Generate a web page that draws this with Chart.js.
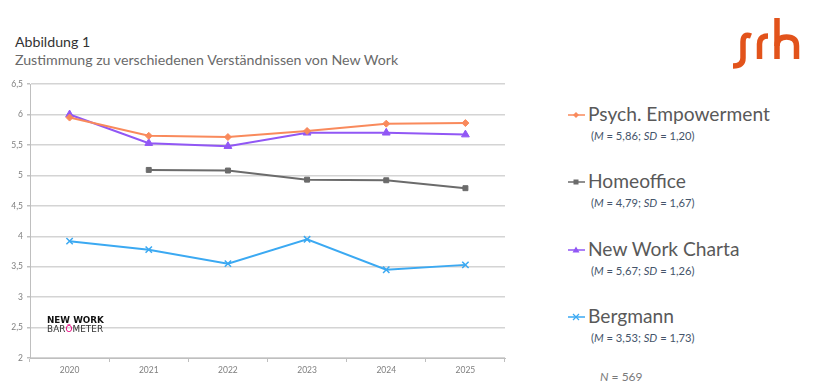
<!DOCTYPE html>
<html>
<head>
<meta charset="utf-8">
<script src="https://cdn.jsdelivr.net/npm/chart.js@4"></script>
<style>
  body { margin: 0; width: 820px; height: 390px; background: #fff; position: relative; overflow: hidden; font-family: Lato, "Open Sans", sans-serif; }
  #title1 { position: absolute; left: 15px; top: 33px; font-size: 14.2px; color: #333; }
  #title2 { position: absolute; left: 15px; top: 51px; font-size: 14.2px; color: #6a6a6a; }
  #chartBox { position: absolute; left: 0; top: 75px; width: 515px; height: 310px; }
  .leg { position: absolute; left: 568px; }
  .leg .name { position: absolute; left: 20px; top: -13px; font-size: 19.2px; color: #595959; white-space: nowrap; }
  .leg .stat { position: absolute; left: 23px; top: 14px; font-size: 11.2px; color: #44546a; white-space: nowrap; }
  .leg svg { position: absolute; left: 0; top: -5px; }
  #nval { position: absolute; left: 600px; top: 369px; font-size: 12px; color: #7a7a7a; }
  #nwb { position: absolute; left: 47px; top: 316px; line-height: 9px; }
  #nwb .a { font-family: "DejaVu Sans", sans-serif; font-weight: bold; font-size: 8.8px; color: #111; }
  #nwb .b { font-family: "DejaVu Sans", sans-serif; font-size: 8.8px; color: #333; letter-spacing: 0.1px; }
  #logo { position: absolute; left: 728px; top: 14px; }
</style>
</head>
<body>
<div id="title1">Abbildung 1</div>
<div id="title2">Zustimmung zu verschiedenen Verständnissen von New Work</div>
<svg id="logo" width="80" height="60" viewBox="728 14 80 60">
  <g fill="none" stroke="#e2531b" stroke-width="5.5" stroke-linecap="butt">
    <path d="M751 36 Q743 33 743 42 L743 58 Q743 66 733 66"/>
    <path d="M759.5 59 L759.5 44 Q759.5 36 768 36"/>
    <path d="M777 18 L777 59"/>
    <path d="M777 46 Q777 37 786.5 37 Q796.5 37 796.5 46 L796.5 59"/>
  </g>
</svg>
<div id="chartBox"><canvas id="chart"></canvas></div>
<div id="nwb"><div class="a">NEW WORK</div><div class="b">BAR<span style="color:#e6007e">Ö</span>METER</div></div>
<div id="legend"></div>
<div id="nval"><i>N</i> = 569</div>
<script>
const years = ['2020', '2021', '2022', '2023', '2024', '2025'];
const psychEmp = [5.95, 5.65, 5.63, 5.73, 5.85, 5.86];
const homeoffice = [null, 5.09, 5.08, 4.93, 4.92, 4.79];
const nwCharta = [6.0, 5.53, 5.48, 5.70, 5.70, 5.67];
const bergmann = [3.92, 3.78, 3.55, 3.95, 3.45, 3.53];

const seriesNames = ['Psych. Empowerment', 'Homeoffice', 'New Work Charta', 'Bergmann'];
const seriesM = ['5,86', '4,79', '5,67', '3,53'];
const seriesSD = ['1,20', '1,67', '1,26', '1,73'];

const colors = ['#f98a5c', '#6b6b6b', '#9157f5', '#3ba9f2'];
const markers = ['rectRot', 'rect', 'triangle', 'crossRot'];
const radii = [3.5, 3.5, 4.5, 4.5];
const legendY = [115, 182, 250, 317];

function fmt(v) {
    return String(v).replace('.', ',');
}

const dataSets = [psychEmp, homeoffice, nwCharta, bergmann];

const ctx = document.getElementById('chart').getContext('2d');
new Chart(ctx, {
    type: 'line',
    data: {
        labels: years,
        datasets: dataSets.map((d, i) => ({
            label: seriesNames[i],
            data: d,
            borderColor: colors[i],
            backgroundColor: colors[i],
            borderWidth: 2,
            pointStyle: markers[i],
            pointRadius: radii[i],
            pointBorderWidth: markers[i] === 'crossRot' ? 1.5 : 1,
            tension: 0,
            fill: false
        }))
    },
    options: {
        responsive: true,
        maintainAspectRatio: false,
        animation: false,
        layout: { padding: { top: 8, right: 10, left: 0, bottom: 0 } },
        plugins: { legend: { display: false }, tooltip: { enabled: false } },
        scales: {
            x: {
                offset: true,
                grid: { display: true, drawOnChartArea: false, drawTicks: true, tickLength: 4, color: '#bfbfbf', offset: true },
                border: { display: true, color: '#bfbfbf', width: 1 },
                ticks: { color: '#7f7f7f', font: { family: 'Lato', size: 8.5 }, padding: 3, maxRotation: 0 },
                afterFit: s => { s.height = 27; }
            },
            y: {
                min: 2,
                max: 6.5,
                ticks: { stepSize: 0.5, color: '#7f7f7f', font: { family: 'Lato', size: 8.5 }, padding: 4, callback: v => fmt(v) },
                grid: { color: '#d4d4d4', lineWidth: 1.5, tickLength: 3, tickColor: '#bfbfbf' },
                border: { display: true, color: '#bfbfbf', width: 1 },
                afterFit: s => { s.width = 30; }
            }
        }
    }
});

const legend = document.getElementById('legend');
seriesNames.forEach((name, i) => {
    const el = document.createElement('div');
    el.className = 'leg';
    el.style.top = legendY[i] + 'px';
    let mk = '';
    const c = colors[i];
    if (markers[i] === 'rectRot') mk = `<polygon points="8,2 11,5 8,8 5,5" fill="${c}"/>`;
    if (markers[i] === 'rect') mk = `<rect x="5.5" y="2.5" width="5" height="5" fill="${c}"/>`;
    if (markers[i] === 'triangle') mk = `<polygon points="8,1.5 11.5,7.5 4.5,7.5" fill="${c}"/>`;
    if (markers[i] === 'crossRot') mk = `<path d="M5 2 L11 8 M11 2 L5 8" stroke="${c}" stroke-width="1.2"/>`;
    el.innerHTML = `<svg width="18" height="10"><line x1="0" y1="5" x2="17" y2="5" stroke="${c}" stroke-width="1.5"/>${mk}</svg>` +
        `<div class="name">${name}</div>` +
        `<div class="stat">(<i>M</i> = ${seriesM[i]}; <i>SD</i> = ${seriesSD[i]})</div>`;
    legend.appendChild(el);
});
</script>
</body>
</html>
